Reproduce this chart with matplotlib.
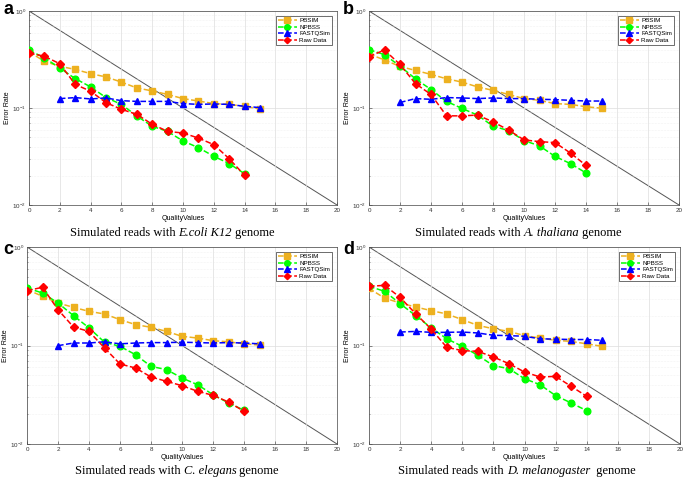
import matplotlib
matplotlib.use("Agg")
import matplotlib.pyplot as plt

plt.rcParams['font.family'] = ['Liberation Sans', 'DejaVu Sans']

series_names = ["PBSIM", "NPBSS", "FASTQSim", "Raw Data"]
x_main = list(range(0, 16))
x_short = list(range(0, 15))
x_fastq = list(range(2, 16))

# Panel a: E.coli K12
a_pbsim = [0.38, 0.303, 0.269, 0.25, 0.226, 0.209, 0.185, 0.161, 0.150, 0.138, 0.125, 0.118, 0.111, 0.109, 0.104, 0.098]
a_npbss = [0.393, 0.330, 0.258, 0.201, 0.165, 0.128, 0.109, 0.0827, 0.0648, 0.0574, 0.0457, 0.039, 0.0318, 0.0267, 0.021]
a_fastq = [0.125, 0.128, 0.124, 0.127, 0.119, 0.117, 0.117, 0.117, 0.111, 0.109, 0.110, 0.109, 0.104, 0.101]
a_raw = [0.369, 0.341, 0.286, 0.175, 0.149, 0.1135, 0.097, 0.086, 0.068, 0.0574, 0.0552, 0.049, 0.0419, 0.030, 0.0202]

# Panel b: A. thaliana
b_pbsim = [0.36, 0.313, 0.268, 0.244, 0.222, 0.200, 0.185, 0.165, 0.152, 0.138, 0.125, 0.120, 0.111, 0.109, 0.103, 0.0996]
b_npbss = [0.399, 0.355, 0.270, 0.200, 0.155, 0.117, 0.099, 0.0845, 0.065, 0.0585, 0.0462, 0.0407, 0.0317, 0.0267, 0.0214]
b_fastq = [0.114, 0.125, 0.123, 0.128, 0.127, 0.125, 0.127, 0.125, 0.125, 0.123, 0.122, 0.120, 0.118, 0.118]
b_raw = [0.339, 0.396, 0.281, 0.178, 0.138, 0.083, 0.083, 0.0845, 0.072, 0.0593, 0.0469, 0.045, 0.044, 0.0343, 0.0256]

# Panel c: C. elegans
c_pbsim = [0.37, 0.316, 0.270, 0.244, 0.222, 0.209, 0.183, 0.163, 0.153, 0.139, 0.124, 0.119, 0.112, 0.109, 0.104, 0.101]
c_npbss = [0.384, 0.341, 0.270, 0.201, 0.151, 0.108, 0.098, 0.0807, 0.0614, 0.0569, 0.0468, 0.040, 0.0317, 0.0261, 0.022]
c_fastq = [0.0996, 0.106, 0.106, 0.109, 0.104, 0.106, 0.107, 0.107, 0.108, 0.107, 0.106, 0.107, 0.106, 0.104]
c_raw = [0.360, 0.390, 0.231, 0.154, 0.139, 0.0944, 0.0649, 0.0591, 0.0479, 0.0433, 0.0391, 0.0343, 0.0312, 0.0267, 0.0215]

# Panel d: D. melanogaster
d_pbsim = [0.38, 0.303, 0.270, 0.246, 0.226, 0.209, 0.183, 0.160, 0.148, 0.139, 0.126, 0.119, 0.113, 0.110, 0.104, 0.098]
d_npbss = [0.399, 0.355, 0.266, 0.201, 0.151, 0.117, 0.098, 0.0795, 0.0624, 0.0582, 0.046, 0.040, 0.031, 0.0261, 0.0218]
d_fastq = [0.137, 0.139, 0.136, 0.136, 0.137, 0.134, 0.127, 0.126, 0.124, 0.117, 0.116, 0.115, 0.115, 0.113]
d_raw = [0.399, 0.408, 0.308, 0.210, 0.147, 0.0958, 0.0887, 0.0873, 0.0764, 0.0654, 0.0538, 0.0479, 0.0486, 0.0385, 0.0305]

diag_x = [0, 20]
diag_y = [1.0, 0.01]

panel_letters = ["a", "b", "c", "d"]
# caption pieces: (text, italic?)
captions = [
    [("Simulated reads with ", False), ("E.coli K12", True), (" genome", False)],
    [("Simulated reads with ", False), ("A. thaliana", True), (" genome", False)],
    [("Simulated reads with ", False), ("C. elegans", True), (" genome", False)],
    [("Simulated reads with ", False), ("D. melanogaster", True), ("  genome", False)],
]
data = [
    (a_pbsim, a_npbss, a_fastq, a_raw),
    (b_pbsim, b_npbss, b_fastq, b_raw),
    (c_pbsim, c_npbss, c_fastq, c_raw),
    (d_pbsim, d_npbss, d_fastq, d_raw),
]

W, H = 685, 484
fig = plt.figure(figsize=(W / 100, H / 100), dpi=100)
renderer = fig.canvas.get_renderer()

# axes boxes in pixels: left, top, right, bottom
boxes = [(29, 11, 337, 205), (369, 11, 679, 205), (27, 247, 337, 444), (369, 247, 680, 444)]
letter_pos = [(3, 9), (343, 9), (3, 249), (343, 249)]
caption_pos = [(172, 233), (518, 233), (177, 471), (517, 471)]

colors = ["#EDB120", "#00FF00", "#0000FF", "#FF0000"]
markers = ["s", "o", "^", "D"]


def draw_caption(cx_px, cy_px, pieces):
    texts = []
    widths = []
    for s, it in pieces:
        t = fig.text(0, 1 - cy_px / H, s.replace(" ", "\u00a0"), fontsize=9, family="Liberation Serif",
                     style="italic" if it else "normal", va="center", ha="left")
        bb = t.get_window_extent(renderer=renderer)
        texts.append(t)
        widths.append(bb.width)
    total = sum(widths)
    x = cx_px - total / 2
    for t, w in zip(texts, widths):
        t.set_x(x / W)
        x += w


for i in range(4):
    l, t, r, b = boxes[i]
    ax = fig.add_axes([l / W, 1 - b / H, (r - l) / W, (b - t) / H])
    pb, npb, fq, raw = data[i]
    ax.plot(diag_x, diag_y, color="#555555", lw=0.7, zorder=1)
    ax.plot(x_main, pb, ls="--", color=colors[0], marker=markers[0], ms=4.3, lw=1.1, label=series_names[0], zorder=3)
    ax.plot(x_short, npb, ls="--", color=colors[1], marker=markers[1], ms=4.8, lw=1.1, label=series_names[1], zorder=4)
    ax.plot(x_fastq, fq, ls="--", color=colors[2], marker=markers[2], ms=4.8, lw=1.1, label=series_names[2], zorder=5)
    ax.plot(x_short, raw, ls="--", color=colors[3], marker=markers[3], ms=3.8, lw=1.1, label=series_names[3], zorder=6)
    ax.set_yscale("log")
    ax.set_xlim(0, 20)
    ax.set_ylim(0.01, 1)
    ax.set_xticks(range(0, 21, 2))
    ax.grid(True, which="major", color="#dddddd", lw=0.5)
    ax.grid(True, which="minor", axis="y", color="#e6e6e6", lw=0.4, ls=":")
    ax.tick_params(which="both", direction="in", labelsize=4.5, length=2, width=0.4, colors="#333333", pad=2)
    ax.tick_params(which="minor", length=1)
    for s in ax.spines.values():
        s.set_linewidth(0.5)
        s.set_color("#444444")
    ax.set_xlabel("QualityValues", fontsize=5, labelpad=1.5)
    ax.set_ylabel("Error Rate", fontsize=5, labelpad=1)
    leg = ax.legend(loc="upper right", fontsize=4.5, frameon=True, fancybox=False,
                    edgecolor="black", borderpad=0.3, handlelength=3, labelspacing=0.2,
                    handletextpad=0.4, borderaxespad=0.8, markerscale=0.85)
    leg.get_frame().set_linewidth(0.5)
    fig.text(letter_pos[i][0] / W, 1 - letter_pos[i][1] / H, panel_letters[i],
             fontsize=13, fontweight="bold", va="center", ha="left", family="Liberation Sans")
    draw_caption(caption_pos[i][0], caption_pos[i][1], captions[i])

fig.savefig("out.png", dpi=100)
